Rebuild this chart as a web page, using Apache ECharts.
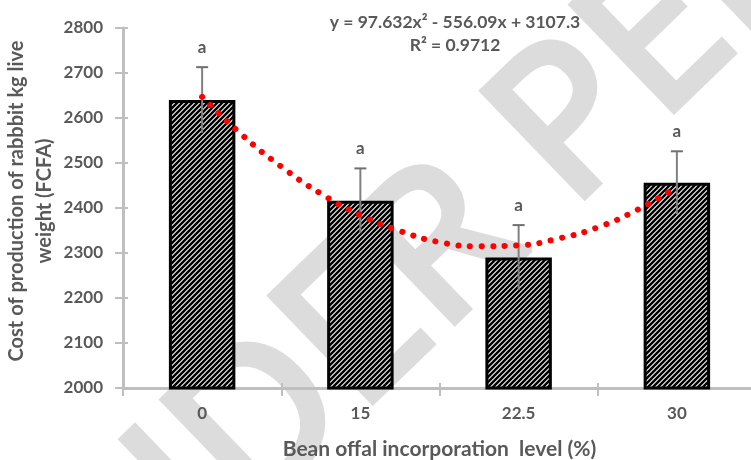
<!DOCTYPE html>
<html>
<head>
<meta charset="utf-8">
<script src="https://cdn.jsdelivr.net/npm/echarts@6/dist/echarts.min.js"></script>
<style>
html,body{margin:0;padding:0;background:#fff;}
#chart{width:751px;height:460px;}
</style>
</head>
<body>
<div id="chart"></div>
<script>
// ---- data ----
const categories = ['0', '15', '22.5', '30'];
const costValues = [2640, 2416, 2290, 2456];
const errorValues = [73, 72, 72, 70];
const significanceLetters = ['a', 'a', 'a', 'a'];
// polynomial trendline at positions along the category axis (1 = first bar)
const trendX = [1, 1.25, 1.5, 1.75, 2, 2.25, 2.5, 2.75, 3, 3.25, 3.5, 3.75, 4];
const trendY = [2647, 2563, 2492, 2432, 2384, 2349, 2324, 2315, 2317, 2332, 2357, 2396, 2447];
const yMin = 2000, yMax = 2800, yStep = 100;
const equationText = 'y = 97.632x\u00B2 - 556.09x + 3107.3';
const r2Text = 'R\u00B2 = 0.9712';
const xTitle = 'Bean offal incorporation  level (%)';
const yTitle = 'Cost of production of rabbbit kg live\nweight (FCFA)';
const watermarkBefore = 'UNDER ';
const watermarkText = 'UNDER PEER REVIEW';

// ---- styles ----
const textGray = '#595959';
const axisGray = '#bfbfbf';
const font = 'Lato';
const fw = 'bold';

function hatch() {
  const s = 5;
  const c = document.createElement('canvas');
  c.width = s; c.height = s;
  const g = c.getContext('2d');
  g.fillStyle = '#fff'; g.fillRect(0, 0, s, s);
  g.strokeStyle = '#000'; g.lineWidth = 2.5; g.lineCap = 'square';
  g.beginPath();
  g.moveTo(-1, s + 1); g.lineTo(s + 1, -1);
  g.moveTo(-1, 1); g.lineTo(1, -1);
  g.moveTo(s - 1, s + 1); g.lineTo(s + 1, s - 1);
  g.stroke();
  return c;
}

// watermark layout (diagonal, behind the chart)
const wmSize = 205;
const wmFont = 'normal ' + wmSize + 'px "Noto Sans"';
const wmScaleX = 1;
const wmTheta = 44 * Math.PI / 180;
const meas = document.createElement('canvas').getContext('2d');
meas.font = wmFont;
const wBefore = meas.measureText(watermarkBefore).width * wmScaleX;
const pAnchor = [530, 168];
const wmStart = [pAnchor[0] - wBefore * Math.cos(wmTheta), pAnchor[1] + wBefore * Math.sin(wmTheta)];

const chart = echarts.init(document.getElementById('chart'), null, {renderer: 'canvas'});
const tickHalf = {show: true, inside: true, length: 5, lineStyle: {color: axisGray, width: 2}};
const option = {
  animation: false,
  backgroundColor: '#fff',
  grid: {left: 123, top: 28, width: 633, height: 360, containLabel: false, outerBoundsMode: 'none'},
  graphic: [
    {
      type: 'text', z: -10, x: wmStart[0], y: wmStart[1], rotation: wmTheta, scaleX: wmScaleX, silent: true,
      style: {text: watermarkText, font: wmFont, fill: '#dcdcdc', stroke: '#dcdcdc', lineWidth: 7, lineJoin: 'round',
              verticalAlign: 'middle', align: 'left'}
    },
    {
      type: 'text', x: 31, y: 201, rotation: Math.PI / 2, z: 100,
      style: {text: yTitle, font: fw + ' 20px ' + font, fill: textGray, align: 'center', verticalAlign: 'middle', lineHeight: 28}
    },
    {
      type: 'text', x: 455, y: 22, z: 100,
      style: {text: equationText, font: 'bold 17.5px ' + font, fill: textGray, align: 'center', verticalAlign: 'middle'}
    },
    {
      type: 'text', x: 455, y: 45, z: 100,
      style: {text: r2Text, font: 'bold 17.5px ' + font, fill: textGray, align: 'center', verticalAlign: 'middle'}
    }
  ],
  xAxis: [
    {
      type: 'category', data: categories, gridIndex: 0,
      name: xTitle, nameLocation: 'middle', nameGap: 51,
      nameTextStyle: {fontFamily: font, fontWeight: fw, fontSize: 21, color: textGray},
      axisLine: {lineStyle: {color: axisGray, width: 3}},
      axisTick: {show: true, length: 8, lineStyle: {color: axisGray, width: 2}},
      axisLabel: {margin: 17, fontFamily: font, fontWeight: fw, fontSize: 17, color: textGray},
      splitLine: {show: false}
    },
    {
      type: 'value', min: 0.5, max: 4.5, show: false, gridIndex: 0
    },
    {
      type: 'category', data: categories, gridIndex: 0, position: 'bottom',
      axisLine: {show: false}, axisLabel: {show: false}, axisTick: tickHalf, splitLine: {show: false}
    }
  ],
  yAxis: [
    {
      type: 'value', min: yMin, max: yMax, interval: yStep,
      axisLine: {show: true, lineStyle: {color: axisGray, width: 3}},
      axisTick: {show: true, length: 8, lineStyle: {color: axisGray, width: 2}},
      axisLabel: {margin: 20, fontFamily: font, fontWeight: fw, fontSize: 17, color: textGray,
                  formatter: function (v) { return String(v); }},
      splitLine: {show: false}
    },
    {
      type: 'value', min: yMin, max: yMax, interval: yStep, position: 'left',
      axisLine: {show: false}, axisLabel: {show: false}, axisTick: tickHalf, splitLine: {show: false}
    }
  ],
  series: [
    {
      type: 'bar', data: costValues, barWidth: '42%', z: 2,
      itemStyle: {color: {image: hatch(), repeat: 'repeat'}, borderColor: '#000', borderWidth: 3}
    },
    {
      type: 'custom', z: 3,
      data: categories.map((c, i) => [i, costValues[i], errorValues[i]]),
      renderItem: function (params, api) {
        const i = api.value(0), v = api.value(1), e = api.value(2);
        const top = api.coord([i, v + e]);
        const bot = api.coord([i, v - e]);
        return {
          type: 'group',
          children: [
            {type: 'line', shape: {x1: top[0], y1: top[1], x2: bot[0], y2: bot[1]}, style: {stroke: '#808080', lineWidth: 2}},
            {type: 'line', shape: {x1: top[0] - 6, y1: top[1], x2: top[0] + 6, y2: top[1]}, style: {stroke: '#6f6f6f', lineWidth: 2}},
            {type: 'text', x: top[0], y: top[1] - 20, style: {text: significanceLetters[i], font: fw + ' 17px ' + font, fill: textGray, align: 'center', verticalAlign: 'middle'}}
          ]
        };
      }
    },
    {
      type: 'line', xAxisIndex: 1, z: 5, smooth: true, symbol: 'none',
      data: trendX.map((x, i) => [x, trendY[i]]),
      lineStyle: {color: '#ff0000', width: 6, type: [0.1, 11.5], cap: 'round'}
    }
  ]
};
chart.setOption(option);
</script>
</body>
</html>
